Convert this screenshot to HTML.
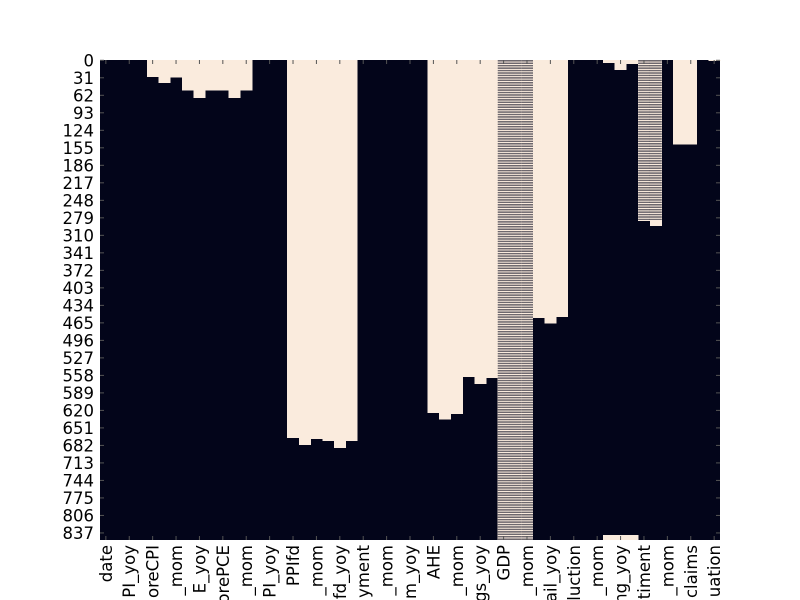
<!DOCTYPE html>
<html><head><meta charset="utf-8"><style>
html,body{margin:0;padding:0;background:#fff;}
svg{display:block;font-family:"DejaVu Sans","Liberation Sans",sans-serif;}
</style></head><body>
<svg id="chart" width="800" height="600" viewBox="0 0 800 600" xmlns="http://www.w3.org/2000/svg"></svg>
<script>
// rows fully missing at top of each column
const topMissing = [0,0,0,0,30,41,31,54,67,54,54,67,54,0,0,0,669,682,671,675,687,675,0,0,0,0,0,0,625,637,627,561,574,563,0,0,0,457,467,455,0,0,0,5,18,7,0,294,0,150,150,0,2];
// rows (from top) where data is only present every third row
const stripeEnd = [0,0,0,0,0,0,0,0,0,0,0,0,0,0,0,0,0,0,0,0,0,0,0,0,0,0,0,0,0,0,0,0,0,0,850,850,850,0,0,0,0,0,0,0,0,0,285,285,0,0,0,0,0];
// rows missing at bottom of each column
const bottomMissing = [0,0,0,0,0,0,0,0,0,0,0,0,0,0,0,0,0,0,0,0,0,0,0,0,0,0,0,0,0,0,0,0,0,0,0,0,0,0,0,0,0,0,0,9,9,9,0,0,0,0,0,0,0];
const nRows = 850;
const xLabels = ["date","PI_yoy","oreCPI","_mom","E_yoy","orePCE","_mom","PI_yoy","PPIfd","_mom","fd_yoy","yment","_mom","m_yoy","AHE","_mom","gs_yoy","GDP","_mom","ail_yoy","luction","_mom","ng_yoy","timent","_mom","claims","uation"];
const yTicks = [0,31,62,93,124,155,186,217,248,279,310,341,372,403,434,465,496,527,558,589,620,651,682,713,744,775,806,837];

const NS="http://www.w3.org/2000/svg";
const svg=document.getElementById('chart');
const X0=100,X1=720,Y0=60,Y1=540;
const nCols=topMissing.length;
const cw=(X1-X0)/nCols, rh=(Y1-Y0)/nRows;
const xCol=i=>X0+i*cw;
const yRow=r=>Y0+r*rh;
const DARK="#03051a", LIGHT="#faebdd";
function mk(t,a){const e=document.createElementNS(NS,t);for(const k in a)e.setAttribute(k,a[k]);svg.appendChild(e);return e;}

const bg=mk('rect',{x:X0,y:Y0,width:X1-X0,height:Y1-Y0,fill:DARK});



for(let c=0;c<nCols;c++){
  const se=stripeEnd[c];
  if(se>0){
    const s=mk('rect',{x:xCol(c),y:yRow(0),width:cw+0.3,height:se*rh,fill:LIGHT,'shape-rendering':'crispEdges'});
    
    
    for(let r=0;r<se;r+=3){
      const d=mk('rect',{x:xCol(c),y:yRow(r),width:cw+0.3,height:rh,fill:DARK});
      
      
    }
  }
  const t=topMissing[c];
  if(t>se){
    const e=mk('rect',{x:xCol(c),y:yRow(se),width:cw+0.3,height:(t-se)*rh,fill:LIGHT,'shape-rendering':'crispEdges'});
    
    
  }
  const b=bottomMissing[c];
  if(b>0){
    const e=mk('rect',{x:xCol(c),y:yRow(nRows-b),width:cw+0.3,height:b*rh,fill:LIGHT,'shape-rendering':'crispEdges'});
    
    
  }
}

// y ticks
yTicks.forEach(v=>{
  const y=yRow(v+0.5);
  const tk=mk('line',{x1:X0,x2:X0+4,y1:y,y2:y,stroke:"#555",'stroke-width':1});
  
  
  const tk2=mk('line',{x1:X1-4,x2:X1,y1:y,y2:y,stroke:"#555",'stroke-width':1});
  
  
  const tx=mk('text',{x:94,y:y+6,'text-anchor':'end','font-size':16.5,fill:"#000"});
  tx.textContent=v;
  
  
});
// x ticks
xLabels.forEach((lab,k)=>{
  const x=xCol(2*k+0.5);
  const tk=mk('line',{x1:x,x2:x,y1:Y1-4,y2:Y1,stroke:"#555",'stroke-width':1});
  
  
  const tk2=mk('line',{x1:x,x2:x,y1:Y0,y2:Y0+4,stroke:"#555",'stroke-width':1});
  
  
  const tx=mk('text',{x:0,y:0,'text-anchor':'end','font-size':16.5,fill:"#000",transform:`translate(${x+6},545) rotate(-90)`});
  tx.textContent=lab;
  
  
});
</script>
</body></html>
